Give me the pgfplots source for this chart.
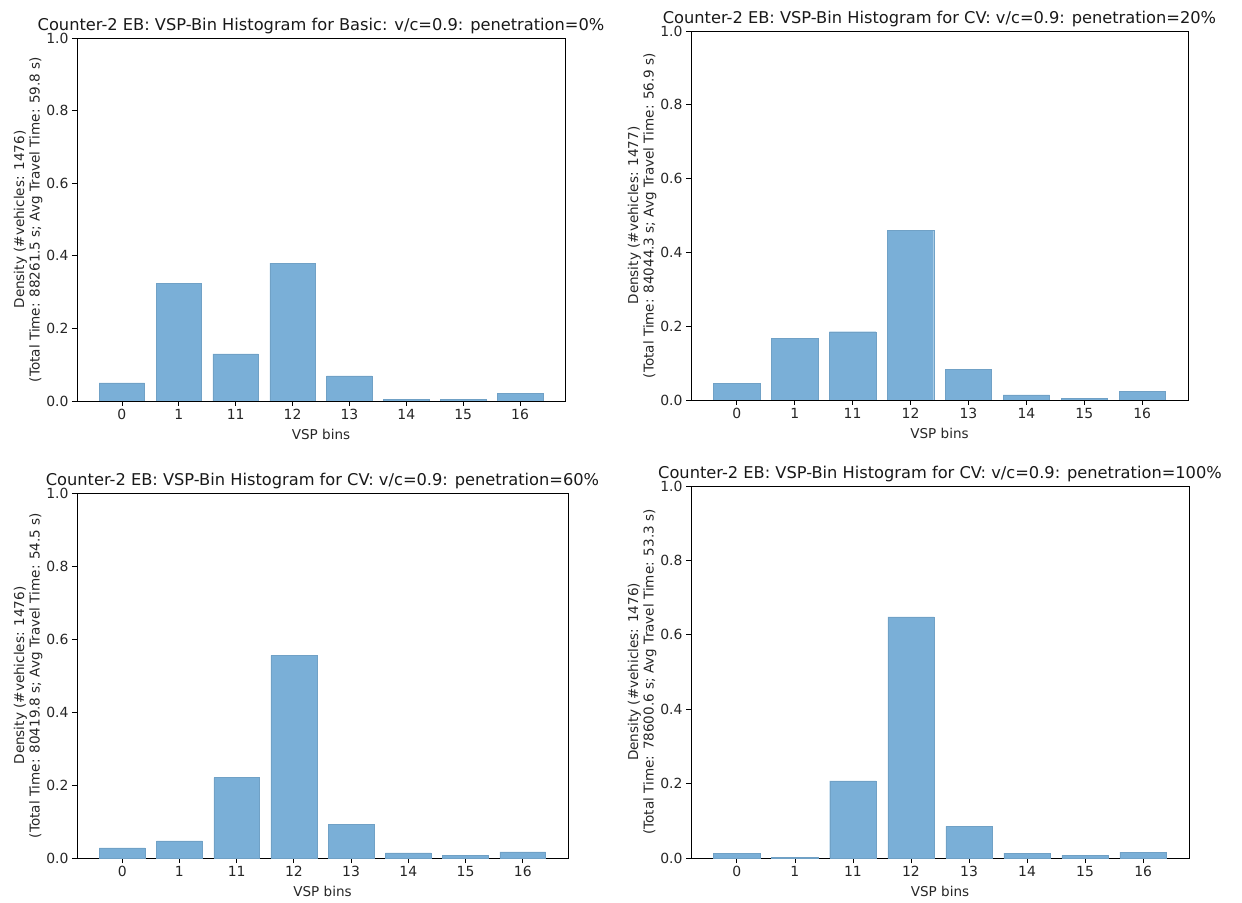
\documentclass[border=0pt]{standalone}
\usepackage{pgfplots}
\pgfplotsset{compat=1.18}
\usepackage{fontspec}
\setmainfont{DejaVu Sans}

\definecolor{barblue}{RGB}{122,175,215}

% shared look of the four VSP-bin histograms
\pgfplotsset{
  vsphist/.style={
    scale only axis,
    anchor=south west,
    xmin=-0.79, xmax=7.79,
    ymin=0, ymax=1,
    xtick={0,...,7},
    xticklabels={0,1,11,12,13,14,15,16},
    ytick={0,0.2,0.4,0.6,0.8,1.0},
    yticklabel style={/pgf/number format/.cd,fixed,fixed zerofill,precision=1,assume math mode=true},
    xticklabel style={/pgf/number format/assume math mode=true},
    tick align=outside,
    tick pos=left,
    major tick length=5bp,
    tick style={black, line width=0.8bp},
    axis line style={line width=0.8bp},
    every tick label/.append style={font=\fontsize{14}{16}\selectfont, text=black!85},
    label style={font=\fontsize{13.6}{15.5}\selectfont, text=black!85},
    title style={font=\fontsize{16.3}{18}\selectfont, text=black!90, yshift=-5bp},
    xlabel={VSP bins},
    xlabel style={yshift=-2bp},
    ylabel style={align=center, yshift=-3bp},
    ybar, bar width=0.8,
    bar shift=0pt,
  },
  vspbar/.style={fill=barblue, draw=barblue!92!black, line width=0.4bp},
}

\begin{document}
\begin{tikzpicture}
\path[use as bounding box] (0bp,0bp) rectangle (1242bp,903bp);

% top left: basic, 0% penetration
\begin{axis}[vsphist, at={(77bp,502bp)}, width=488bp, height=363bp,
  title={Counter-2 EB: VSP-Bin Histogram for Basic: v/c=0.9: penetration=0\%},
  ylabel={Density (\#vehicles: 1476)\\(Total Time: 88261.5 s; Avg Travel Time: 59.8 s)}]
\addplot[vspbar] coordinates {(0,0.050) (1,0.325) (2,0.130) (3,0.380) (4,0.069) (5,0.004) (6,0.004) (7,0.022)};
\end{axis}

% top right: CV, 20% penetration
\begin{axis}[vsphist, at={(691bp,503bp)}, width=497bp, height=369bp,
  title={Counter-2 EB: VSP-Bin Histogram for CV: v/c=0.9: penetration=20\%},
  ylabel={Density (\#vehicles: 1477)\\(Total Time: 84044.3 s; Avg Travel Time: 56.9 s)}]
\addplot[vspbar] coordinates {(0,0.045) (1,0.167) (2,0.185) (3,0.459) (4,0.083) (5,0.014) (6,0.005) (7,0.023)};
\end{axis}

% bottom left: CV, 60% penetration
\begin{axis}[vsphist, at={(77bp,45bp)}, width=491bp, height=365bp,
  title={Counter-2 EB: VSP-Bin Histogram for CV: v/c=0.9: penetration=60\%},
  ylabel={Density (\#vehicles: 1476)\\(Total Time: 80419.8 s; Avg Travel Time: 54.5 s)}]
\addplot[vspbar] coordinates {(0,0.028) (1,0.047) (2,0.220) (3,0.555) (4,0.092) (5,0.014) (6,0.007) (7,0.017)};
\end{axis}

% bottom right: CV, 100% penetration
\begin{axis}[vsphist, at={(691bp,45bp)}, width=498bp, height=372bp,
  title={Counter-2 EB: VSP-Bin Histogram for CV: v/c=0.9: penetration=100\%},
  ylabel={Density (\#vehicles: 1476)\\(Total Time: 78600.6 s; Avg Travel Time: 53.3 s)}]
\addplot[vspbar] coordinates {(0,0.013) (1,0.002) (2,0.207) (3,0.648) (4,0.085) (5,0.013) (6,0.007) (7,0.016)};
\end{axis}
\end{tikzpicture}
\end{document}
